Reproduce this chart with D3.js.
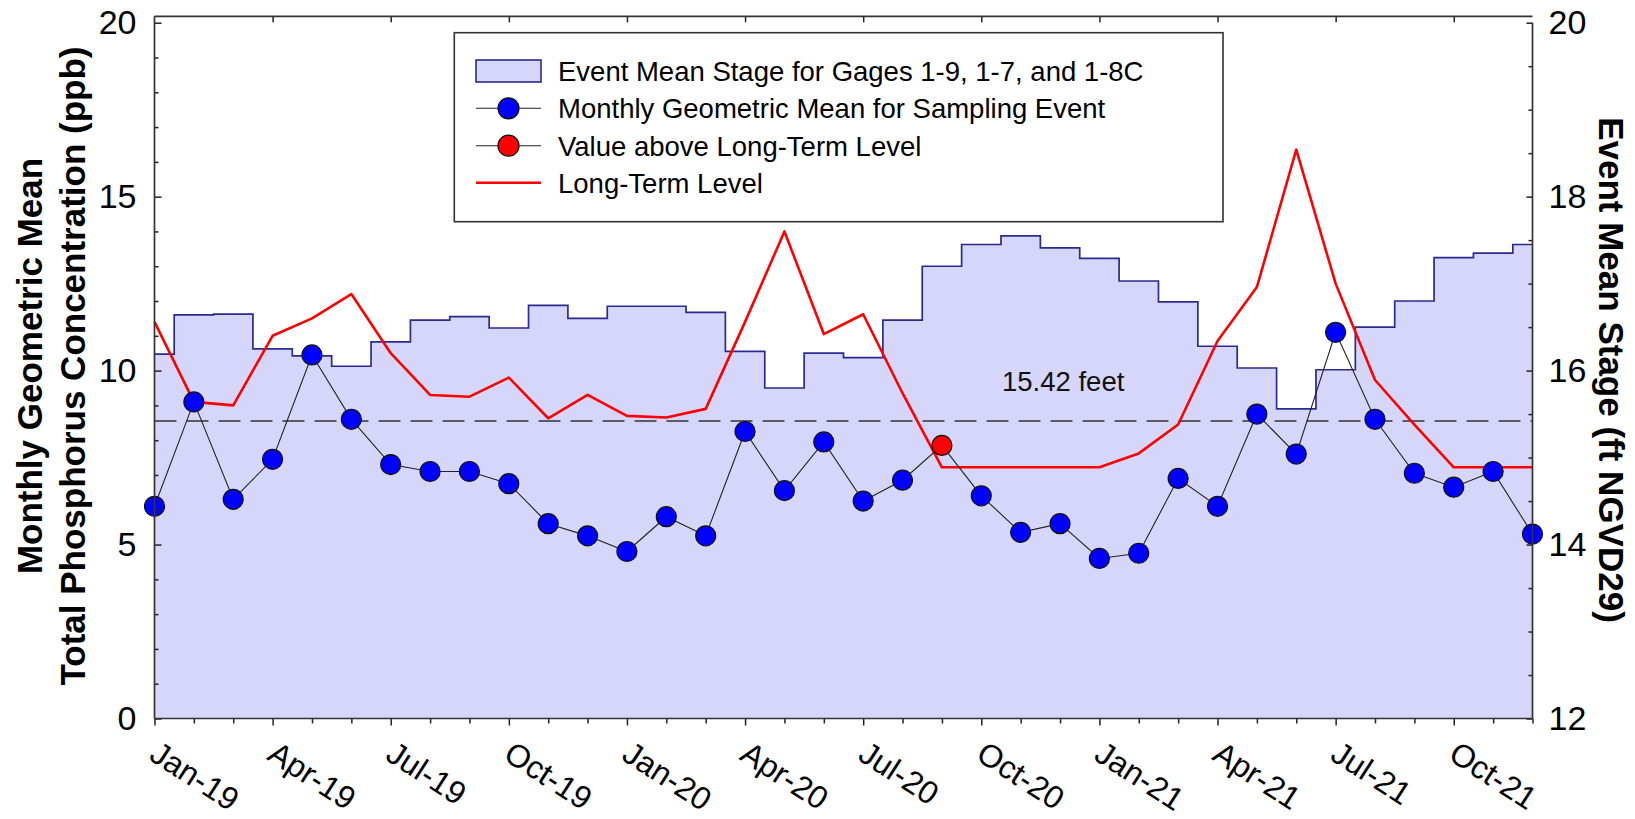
<!DOCTYPE html>
<html>
<head>
<meta charset="utf-8">
<script src="https://cdn.jsdelivr.net/npm/d3@7"></script>
<style>
html,body{margin:0;padding:0;background:#fff;}
svg{display:block;font-family:"Liberation Sans",Arial,sans-serif;}
</style>
</head>
<body>
<svg id="chart" width="1635" height="819"></svg>
<script>
// ---------------- data ----------------
const months = ["Jan-19","Feb-19","Mar-19","Apr-19","May-19","Jun-19","Jul-19","Aug-19","Sep-19","Oct-19","Nov-19","Dec-19",
                "Jan-20","Feb-20","Mar-20","Apr-20","May-20","Jun-20","Jul-20","Aug-20","Sep-20","Oct-20","Nov-20","Dec-20",
                "Jan-21","Feb-21","Mar-21","Apr-21","May-21","Jun-21","Jul-21","Aug-21","Sep-21","Oct-21","Nov-21","Dec-21"];
const xTickLabels = ["Jan-19","Apr-19","Jul-19","Oct-19","Jan-20","Apr-20","Jul-20","Oct-20","Jan-21","Apr-21","Jul-21","Oct-21"];
// Event mean stage (ft NGVD29), right axis
const stage = [16.19,16.64,16.65,16.25,16.17,16.05,16.33,16.58,16.62,16.49,16.75,16.60,
               16.74,16.74,16.67,16.22,15.80,16.20,16.15,16.58,17.20,17.45,17.55,17.41,
               17.29,17.03,16.79,16.28,16.03,15.56,16.01,16.50,16.80,17.30,17.35,17.45];
// Monthly geometric mean TP (ppb), left axis
const tpMean = [6.1,9.1,6.3,7.45,10.45,8.6,7.3,7.1,7.1,6.75,5.6,5.25,
                4.8,5.8,5.25,8.25,6.55,7.95,6.25,6.85,7.85,6.4,5.35,5.6,
                4.6,4.75,6.9,6.1,8.75,7.6,11.1,8.6,7.05,6.65,7.1,5.3];
// Long-term level (ppb), left axis
const longTerm = [11.4,9.1,9.0,11.0,11.5,12.2,10.5,9.3,9.25,9.8,8.63,9.3,
                  8.7,8.65,8.9,11.4,14.0,11.05,11.62,9.35,7.22,7.22,7.22,7.22,
                  7.22,7.62,8.45,10.85,12.4,16.35,12.5,9.73,8.45,7.22,7.22,7.22];
const stageRef = 15.42;
const stageRefLabel = "15.42 feet";
const leftTicks = [0,5,10,15,20];
const rightTicks = [12,14,16,18,20];
const legendLabels = ["Event Mean Stage for Gages 1-9, 1-7, and 1-8C",
                      "Monthly Geometric Mean for Sampling Event",
                      "Value above Long-Term Level",
                      "Long-Term Level"];
const leftTitle = ["Monthly Geometric Mean","Total Phosphorus Concentration (ppb)"];
const rightTitle = "Event Mean Stage (ft NGVD29)";

// ---------------- layout ----------------
const svg = d3.select("#chart");
const FONT = '"Liberation Sans",Arial,sans-serif';
const x = d3.scalePoint().domain(months).range([154.5, 1532.5]);
const yL = d3.scaleLinear().domain([0, 20]).range([718.5, 22.7]);
const yR = d3.scaleLinear().domain([12, 20]).range([718.5, 22.7]);
const xL = x.range()[0], xRt = x.range()[1];
const yBot = yL.range()[0], yTopFrame = 16.3;

const STAGE_FILL = "#d6d6fa", STAGE_LINE = "#2a2a92";

// stage area (step)
const area = d3.area()
  .x((d, i) => x(months[i]))
  .y0(yR(12))
  .y1(d => yR(d))
  .curve(d3.curveStep);
svg.append("path").datum(stage).attr("d", area).attr("fill", STAGE_FILL);
const stageLine = d3.line().x((d, i) => x(months[i])).y(d => yR(d)).curve(d3.curveStep);
svg.append("path").datum(stage).attr("d", stageLine)
  .attr("fill", "none").attr("stroke", STAGE_LINE).attr("stroke-width", 1.7);

// dashed reference line
svg.append("line")
  .attr("x1", xL).attr("x2", xRt)
  .attr("y1", yR(stageRef)).attr("y2", yR(stageRef))
  .attr("stroke", "#333").attr("stroke-width", 1.5)
  .attr("stroke-dasharray", "22,10");
svg.append("text")
  .attr("x", 1002).attr("y", 391)
  .attr("font-size", 27.5).attr("fill", "#111")
  .text(stageRefLabel);

// long-term level
const ltLine = d3.line().x((d, i) => x(months[i])).y(d => yL(d));
svg.append("path").datum(longTerm).attr("d", ltLine)
  .attr("fill", "none").attr("stroke", "#ff0000").attr("stroke-width", 2.6)
  .attr("stroke-linejoin", "round");

// TP connecting line
const tpLine = d3.line().x((d, i) => x(months[i])).y(d => yL(d));
svg.append("path").datum(tpMean).attr("d", tpLine)
  .attr("fill", "none").attr("stroke", "#222").attr("stroke-width", 1.1);

svg.append("g").selectAll("circle")
  .data(tpMean)
  .join("circle")
  .attr("cx", (d, i) => x(months[i]))
  .attr("cy", d => yL(d))
  .attr("r", 10)
  .attr("fill", (d, i) => d > longTerm[i] ? "#ff0000" : "#0000ff")
  .attr("stroke", "#111").attr("stroke-width", 1.2);

// ---------------- axes ----------------
function styleAxis(g, fs) {
  g.select(".domain").remove();
  g.attr("font-size", fs).attr("font-family", FONT).attr("color", "#000");
  g.selectAll(".tick line").attr("stroke", "#222").attr("stroke-width", 1.5);
}
// left
svg.append("g").attr("transform", `translate(${xL},0)`)
  .call(d3.axisLeft(yL).tickValues(leftTicks).tickSizeInner(-7).tickSizeOuter(0).tickPadding(18))
  .call(g => styleAxis(g, 34));
svg.append("g").attr("transform", `translate(${xL},0)`)
  .call(d3.axisLeft(yL).tickValues(d3.range(0, 21).filter(v => v % 5 !== 0)).tickSizeInner(-4).tickSizeOuter(0).tickFormat(""))
  .call(g => styleAxis(g, 34));
// right
svg.append("g").attr("transform", `translate(${xRt},0)`)
  .call(d3.axisRight(yR).tickValues(rightTicks).tickSizeInner(-6).tickSizeOuter(0).tickPadding(16))
  .call(g => styleAxis(g, 34));
svg.append("g").attr("transform", `translate(${xRt},0)`)
  .call(d3.axisRight(yR).tickValues(d3.range(12, 20.01, 0.5).filter(v => v % 2 !== 0)).tickSizeInner(-4).tickSizeOuter(0).tickFormat(""))
  .call(g => styleAxis(g, 34));
// bottom
svg.append("g").attr("transform", `translate(0,${yBot})`)
  .call(d3.axisBottom(x).tickValues(xTickLabels).tickSizeInner(7).tickSizeOuter(0).tickFormat(""))
  .call(g => styleAxis(g, 33));
svg.append("g").attr("transform", `translate(0,${yBot})`)
  .call(d3.axisBottom(x).tickValues(months.filter(m => !xTickLabels.includes(m))).tickSizeInner(5).tickSizeOuter(0).tickFormat(""))
  .call(g => styleAxis(g, 33));
// top
svg.append("g").attr("transform", `translate(0,${yTopFrame})`)
  .call(d3.axisBottom(x).tickValues(xTickLabels.slice(1)).tickSizeInner(6).tickSizeOuter(0).tickFormat(""))
  .call(g => styleAxis(g, 33));

// rotated x labels
svg.append("g").selectAll("g.xl")
  .data(xTickLabels)
  .join("g")
  .attr("class", "xl")
  .attr("transform", d => `translate(${x(d) + 6},739) rotate(33)`)
  .append("text")
  .attr("x", 0).attr("y", 23.5)
  .attr("font-size", 32).attr("fill", "#000")
  .text(d => d);

// frame
const frame = svg.append("g").attr("stroke", "#333").attr("stroke-width", 1.7).attr("fill", "none");
frame.append("line").attr("x1", xL).attr("x2", xL).attr("y1", yTopFrame).attr("y2", yBot);
frame.append("line").attr("x1", xL).attr("x2", xRt).attr("y1", yBot).attr("y2", yBot);
frame.append("line").attr("x1", xRt).attr("x2", xRt).attr("y1", yR(20)).attr("y2", yBot);
frame.append("line").attr("x1", xL).attr("x2", xRt).attr("y1", yTopFrame).attr("y2", yTopFrame);

// titles
svg.append("text").attr("transform", "translate(42,366) rotate(-90)")
  .attr("text-anchor", "middle").attr("font-size", 35).attr("font-weight", "bold")
  .text(leftTitle[0]);
svg.append("text").attr("transform", "translate(85,366) rotate(-90)")
  .attr("text-anchor", "middle").attr("font-size", 35).attr("font-weight", "bold")
  .text(leftTitle[1]);
svg.append("text").attr("transform", "translate(1599,370) rotate(90)")
  .attr("text-anchor", "middle").attr("font-size", 35).attr("font-weight", "bold")
  .text(rightTitle);

// ---------------- legend ----------------
const lg = svg.append("g");
lg.append("rect").attr("x", 454.3).attr("y", 32.7).attr("width", 768.7).attr("height", 189)
  .attr("fill", "#fff").attr("stroke", "#333").attr("stroke-width", 1.6);
const rowY = [71, 108.3, 145.7, 182.7];
const swX0 = 476, swX1 = 541, swXc = 508.5;
lg.append("rect").attr("x", swX0).attr("y", rowY[0] - 11).attr("width", swX1 - swX0).attr("height", 22)
  .attr("fill", STAGE_FILL).attr("stroke", STAGE_LINE).attr("stroke-width", 1.6);
[1, 2].forEach(k => {
  lg.append("line").attr("x1", swX0).attr("x2", swX1).attr("y1", rowY[k]).attr("y2", rowY[k])
    .attr("stroke", "#222").attr("stroke-width", 1.1);
  lg.append("circle").attr("cx", swXc).attr("cy", rowY[k]).attr("r", 10.5)
    .attr("fill", k === 1 ? "#0000ff" : "#ff0000").attr("stroke", "#111").attr("stroke-width", 1.2);
});
lg.append("line").attr("x1", swX0).attr("x2", swX1).attr("y1", rowY[3]).attr("y2", rowY[3])
  .attr("stroke", "#ff0000").attr("stroke-width", 2.6);
lg.selectAll("text.lt").data(legendLabels).join("text")
  .attr("class", "lt")
  .attr("x", 558).attr("y", (d, i) => rowY[i] + 9.8)
  .attr("font-size", 27.5).attr("fill", "#000")
  .text(d => d);
</script>
</body>
</html>
